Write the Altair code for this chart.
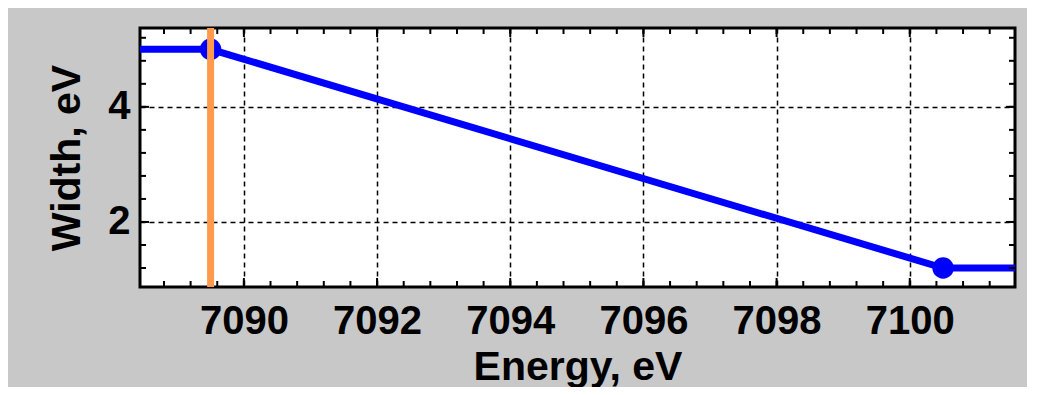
import altair as alt
import pandas as pd

# --- data ---
x_line = [7088.0, 7089.5, 7100.5, 7102.0]
y_line = [5.0, 5.0, 1.2, 1.2]
x_pts = [7089.5, 7100.5]
y_pts = [5.0, 1.2]
x_marker = [7089.5]

x_major = [7090, 7092, 7094, 7096, 7098, 7100]
y_major = [2, 4]
x_minor = [7088.8, 7089.2, 7089.6, 7090.0, 7090.4, 7090.8, 7091.2, 7091.6,
           7092.0, 7092.4, 7092.8, 7093.2, 7093.6, 7094.0, 7094.4, 7094.8,
           7095.2, 7095.6, 7096.0, 7096.4, 7096.8, 7097.2, 7097.6, 7098.0,
           7098.4, 7098.8, 7099.2, 7099.6, 7100.0, 7100.4, 7100.8, 7101.2]
y_minor = [1.2, 1.6, 2.0, 2.4, 2.8, 3.2, 3.6, 4.0, 4.4, 4.8, 5.2]

x_domain = [7088.44, 7101.58]
y_domain = [0.87, 5.37]

W, H = 875, 259
FONT = "Liberation Sans"

xs = alt.Scale(domain=x_domain, nice=False, zero=False)
ys = alt.Scale(domain=y_domain, nice=False, zero=False)

x_axis = alt.Axis(values=x_major, title="Energy, eV", format="d", ticks=False, domain=False,
                  grid=True, gridColor="black", gridDash=[5, 4], gridWidth=1.5, gridOpacity=1,
                  labelFont=FONT, labelFontSize=40, labelFontWeight="bold", labelColor="black",
                  labelPadding=14, titleFont=FONT, titleFontSize=41, titleFontWeight="bold",
                  titleColor="black", titlePadding=6)
y_axis = alt.Axis(values=y_major, title="Width, eV", format="d", ticks=False, domain=False,
                  grid=True, gridColor="black", gridDash=[5, 4], gridWidth=1.5, gridOpacity=1,
                  labelFont=FONT, labelFontSize=40, labelFontWeight="bold", labelColor="black",
                  labelPadding=10, titleFont=FONT, titleFontSize=41, titleFontWeight="bold",
                  titleColor="black", titlePadding=19)


def X(field):
    return alt.X(f"{field}:Q", scale=xs, axis=x_axis)


def Y(field):
    return alt.Y(f"{field}:Q", scale=ys, axis=y_axis)


line_df = pd.DataFrame({"x": x_line, "y": y_line})
pts_df = pd.DataFrame({"x": x_pts, "y": y_pts})
mark_df = pd.DataFrame({"x": x_marker})
xmaj_df = pd.DataFrame({"xt": x_major})
xmin_df = pd.DataFrame({"xt": x_minor})
ymaj_df = pd.DataFrame({"yt": y_major})
ymin_df = pd.DataFrame({"yt": y_minor})

layers = []
for df, ln in [(xmin_df, 6), (xmaj_df, 9)]:
    layers.append(alt.Chart(df).mark_rule(color="black", strokeWidth=2).encode(
        x=X("xt"), y=alt.value(H), y2=alt.value(H - ln)))
    layers.append(alt.Chart(df).mark_rule(color="black", strokeWidth=2).encode(
        x=X("xt"), y=alt.value(0), y2=alt.value(ln)))
for df, ln in [(ymin_df, 6), (ymaj_df, 9)]:
    layers.append(alt.Chart(df).mark_rule(color="black", strokeWidth=2).encode(
        y=Y("yt"), x=alt.value(0), x2=alt.value(ln)))
    layers.append(alt.Chart(df).mark_rule(color="black", strokeWidth=2).encode(
        y=Y("yt"), x=alt.value(W), x2=alt.value(W - ln)))

line = alt.Chart(line_df).mark_line(color="#0000ff", strokeWidth=7, clip=True).encode(
    x=X("x"), y=Y("y"))
pts = alt.Chart(pts_df).mark_circle(color="#0000ff", size=460, opacity=1).encode(
    x=X("x"), y=Y("y"))
marker = alt.Chart(mark_df).mark_rule(color="#ff9a4d", strokeWidth=7).encode(x=X("x"))

chart = alt.layer(line, pts, *layers, marker).properties(
    width=W, height=H,
    background="#c8c8c8",
    autosize=alt.AutoSizeParams(type="none"),
    padding={"left": 132, "top": 20, "right": 12, "bottom": 100},
).configure_view(stroke="black", strokeWidth=3, fill="white")

chart.save("out.html", embed_options={"renderer": "svg", "actions": False})
